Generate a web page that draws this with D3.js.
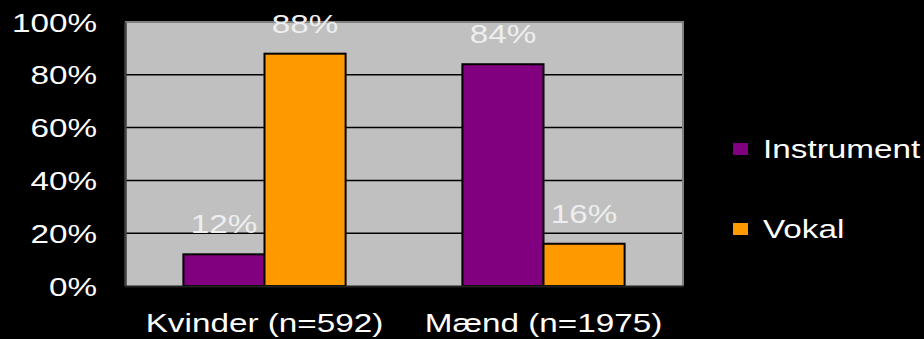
<!DOCTYPE html>
<html>
<head>
<meta charset="utf-8">
<script src="https://cdn.jsdelivr.net/npm/d3@7"></script>
<style>
  html, body { margin: 0; padding: 0; background: #000; }
  svg { display: block; }
  text { font-family: "Liberation Sans", Arial, sans-serif; }
</style>
</head>
<body>
<svg id="chart" width="924" height="339"></svg>
<script>
// Share of instrument vs. vocal, by gender
const categories = ["Kvinder (n=592)", "Mænd (n=1975)"];
const seriesNames = ["Instrument", "Vokal"];
const instrumentValues = [12, 84];
const vokalValues = [88, 16];
const tickValues = [0, 20, 40, 60, 80, 100];

const colors = { Instrument: "#800080", Vokal: "#FF9900" };
const valuesBySeries = { Instrument: instrumentValues, Vokal: vokalValues };

const W = 924, H = 339;
const plot = { left: 125, right: 683, top: 22, bottom: 286 };
const stretch = 1.28; // horizontal text stretch
const fontSize = 26;

const svg = d3.select("#chart");
svg.append("rect").attr("width", W).attr("height", H).attr("fill", "#000");

const x0 = d3.scaleBand().domain(categories).range([plot.left, plot.right]).padding(0);
const x1 = d3.scaleBand().domain(seriesNames).range([0, x0.bandwidth()])
  .paddingInner(0).paddingOuter(0.72);
const y = d3.scaleLinear().domain([0, 100]).range([plot.bottom, plot.top]);

// plot background
svg.append("rect")
  .attr("x", plot.left).attr("y", plot.top)
  .attr("width", plot.right - plot.left).attr("height", plot.bottom - plot.top)
  .attr("fill", "#C0C0C0");

// gridlines
svg.append("g").selectAll("line")
  .data(tickValues.filter(v => v > 0 && v < 100))
  .join("line")
  .attr("x1", plot.left).attr("x2", plot.right)
  .attr("y1", d => y(d)).attr("y2", d => y(d))
  .attr("stroke", "#000").attr("stroke-width", 1.5);

// top and right border
svg.append("path")
  .attr("d", `M${plot.left},${plot.top}H${plot.right}V${plot.bottom}`)
  .attr("fill", "none").attr("stroke", "#808080").attr("stroke-width", 2);

// bars
const groups = svg.append("g").selectAll("g")
  .data(categories)
  .join("g")
  .attr("transform", d => `translate(${x0(d)},0)`);

groups.selectAll("rect")
  .data((c, i) => seriesNames.map(s => ({ s, v: valuesBySeries[s][i] })))
  .join("rect")
  .attr("x", d => x1(d.s))
  .attr("width", x1.bandwidth())
  .attr("y", d => y(d.v))
  .attr("height", d => y(0) - y(d.v))
  .attr("fill", d => colors[d.s])
  .attr("stroke", "#000").attr("stroke-width", 2);

// value labels
groups.selectAll("text")
  .data((c, i) => seriesNames.map(s => ({ s, v: valuesBySeries[s][i] })))
  .join("text")
  .attr("transform", d => `translate(${x1(d.s) + x1.bandwidth() / 2},${y(d.v) - 21}) scale(${stretch},1)`)
  .attr("text-anchor", "middle")
  .attr("font-size", fontSize)
  .attr("fill", "#EEEEEE")
  .text(d => d.v + "%");

// y axis
const yAxis = svg.append("g")
  .attr("transform", `translate(${plot.left},0)`)
  .call(d3.axisLeft(y).tickValues(tickValues).tickSize(0).tickFormat(d => d + "%"));
yAxis.select(".domain").attr("stroke", "#404040").attr("stroke-width", 2.5);
yAxis.selectAll("text")
  .attr("x", null).attr("dy", null)
  .attr("font-size", fontSize)
  .attr("fill", "#FFF")
  .attr("text-anchor", "end")
  .attr("dominant-baseline", "central")
  .attr("transform", `translate(-28,0) scale(${stretch},1)`);

// x axis
const xAxis = svg.append("g")
  .attr("transform", `translate(0,${plot.bottom})`)
  .call(d3.axisBottom(x0).tickSize(0));
xAxis.select(".domain").attr("stroke", "#202020").attr("stroke-width", 2);
xAxis.selectAll(".tick text")
  .attr("y", null).attr("dy", null)
  .attr("font-size", fontSize)
  .attr("fill", "#FFF")
  .attr("transform", `translate(0,46) scale(${stretch},1)`);

// legend
const legend = svg.append("g").selectAll("g")
  .data(seriesNames)
  .join("g")
  .attr("transform", (d, i) => `translate(733,${143 + i * 80})`);
legend.append("rect")
  .attr("width", 15).attr("height", 12)
  .attr("fill", d => colors[d]);
legend.append("text")
  .attr("transform", `translate(30,15) scale(${stretch},1)`)
  .attr("font-size", 26)
  .attr("fill", "#FFF")
  .text(d => d);
</script>
</body>
</html>
